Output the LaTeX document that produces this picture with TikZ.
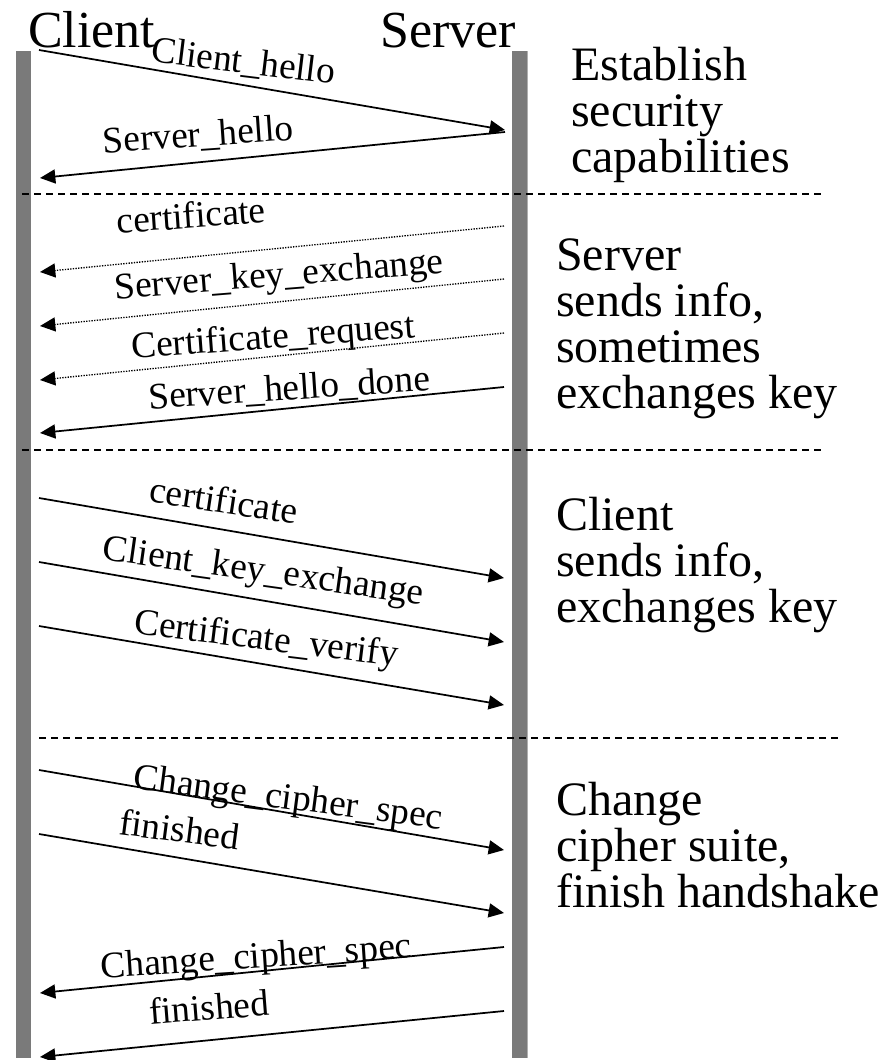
\documentclass[tikz,border=0pt]{standalone}
\usepackage{fontspec}
\setmainfont{Liberation Serif}
\usetikzlibrary{arrows.meta}
\definecolor{barGray}{RGB}{122,122,122}
\definecolor{barEdge}{RGB}{175,175,175}
\begin{document}
\begin{tikzpicture}[x=0.75pt,y=-0.75pt,
  msg/.style={line width=1.3pt,-{Triangle[length=11.5pt,width=10.5pt]}},
  optmsg/.style={msg,line width=1pt,dash pattern=on 1pt off 1pt},
  divider/.style={line width=1pt,dash pattern=on 5pt off 4pt},
  msglabel/.style={font=\fontsize{28}{30}\selectfont,anchor=base,inner sep=0pt},
  partytitle/.style={font=\fontsize{39}{44}\selectfont,anchor=base west,inner sep=0pt},
  phase/.style={font=\fontsize{36}{34.5}\selectfont,anchor=base west,align=left,inner sep=0pt}]
\useasboundingbox (0,0) rectangle (883,1060);

% lifelines
\fill[barGray] (16,51) rectangle (31,1058);
\fill[barGray] (512,51) rectangle (528,1058);
\draw[barEdge,line width=0.75pt] (527.6,51) -- (527.6,1058);

% party names
\node[partytitle] (client) at (28,47) {Client};
\node[partytitle] (server) at (380,47) {Server};

% phase separators
\coordinate (d1a) at (22,194);  \coordinate (d1b) at (823,194);
\coordinate (d2a) at (22,450);  \coordinate (d2b) at (823,450);
\coordinate (d3a) at (39,738);  \coordinate (d3b) at (840,738);
\draw[divider] (d1a) -- (d1b);
\draw[divider] (d2a) -- (d2b);
\draw[divider] (d3a) -- (d3b);

% message end points
\coordinate (m1s) at (39,50);   \coordinate (m1e) at (505,130);
\coordinate (m2s) at (505,132); \coordinate (m2e) at (40,178);
\coordinate (m3s) at (504,226); \coordinate (m3e) at (40,272);
\coordinate (m4s) at (504,279); \coordinate (m4e) at (40,326);
\coordinate (m5s) at (504,333); \coordinate (m5e) at (40,380);
\coordinate (m6s) at (504,387); \coordinate (m6e) at (40,433);
\coordinate (m7s) at (39,498);  \coordinate (m7e) at (504,578);
\coordinate (m8s) at (39,562);  \coordinate (m8e) at (504,642);
\coordinate (m9s) at (39,626);  \coordinate (m9e) at (504,705);
\coordinate (m10s) at (39,770); \coordinate (m10e) at (504,850);
\coordinate (m11s) at (39,834); \coordinate (m11e) at (504,913);
\coordinate (m12s) at (504,947); \coordinate (m12e) at (40,993);
\coordinate (m13s) at (504,1011); \coordinate (m13e) at (40,1057);

% messages
\draw[msg] (m1s) -- (m1e);
\draw[msg] (m2s) -- (m2e);
\draw[optmsg] (m3s) -- (m3e);
\draw[optmsg] (m4s) -- (m4e);
\draw[optmsg] (m5s) -- (m5e);
\draw[msg] (m6s) -- (m6e);
\draw[msg] (m7s) -- (m7e);
\draw[msg] (m8s) -- (m8e);
\draw[msg] (m9s) -- (m9e);
\draw[msg] (m10s) -- (m10e);
\draw[msg] (m11s) -- (m11e);
\draw[msg] (m12s) -- (m12e);
\draw[msg] (m13s) -- (m13e);

% message labels
\node[msglabel,rotate=-7] (l1) at (242,73) {Client\_hello};
\node[msglabel,rotate=4] (l2) at (199,146.5) {Server\_hello};
\node[msglabel,rotate=4] (l3) at (192,228) {certificate};
\node[msglabel,rotate=4.6] (l4) at (280,286) {Server\_key\_exchange};
\node[msglabel,rotate=4.3] (l5) at (274,348) {Certificate\_request};
\node[msglabel,rotate=3.8] (l6) at (290,400) {Server\_hello\_done};
\node[msglabel,rotate=-8.6] (l7) at (222,513) {certificate};
\node[msglabel,rotate=-8] (l8) at (262,582) {Client\_key\_exchange};
\node[msglabel,rotate=-7] (l9) at (265,650) {Certificate\_verify};
\node[msglabel,rotate=-7.5] (l10) at (287,809) {Change\_cipher\_spec};
\node[msglabel,rotate=-7.4] (l11) at (178,842) {finished};
\node[msglabel,rotate=3.8] (l12) at (257,968) {Change\_cipher\_spec};
\node[msglabel,rotate=4.5] (l13) at (210,1020) {finished};

% phase descriptions (anchored on the baseline of their last line)
\node[phase] (p1) at (571,172) {Establish\\security\\capabilities};
\node[phase] (p2) at (556,408) {Server\\sends info,\\sometimes\\exchanges key};
\node[phase] (p3) at (556,622) {Client\\sends info,\\exchanges key};
\node[phase] (p4) at (556,907) {Change\\cipher suite,\\finish handshake};
\end{tikzpicture}
\end{document}
